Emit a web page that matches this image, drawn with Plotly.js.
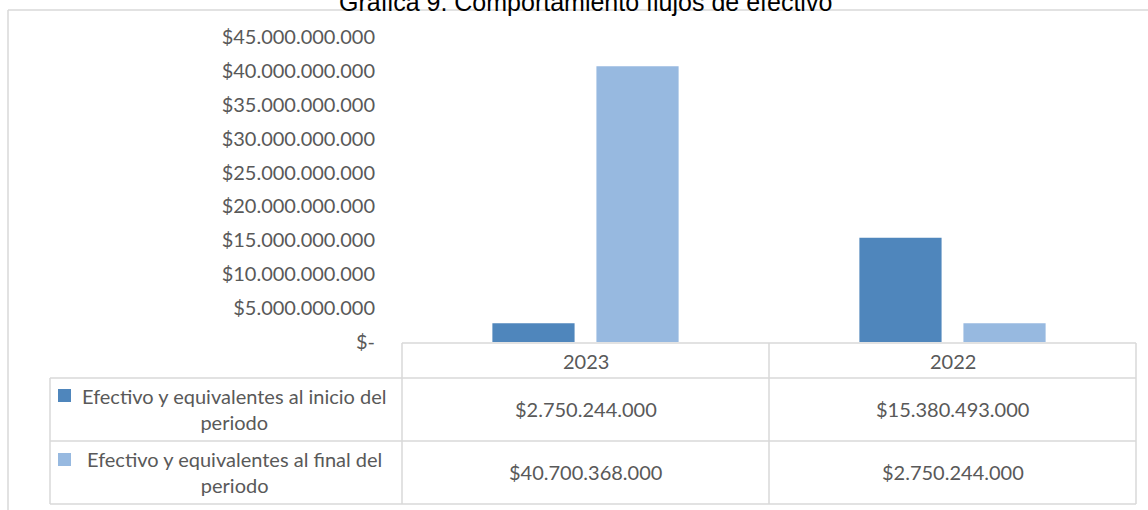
<!DOCTYPE html>
<html><head><meta charset="utf-8">
<script src="https://cdn.plot.ly/plotly-3.0.1.min.js"></script>
<style>html,body{margin:0;padding:0;background:#fff;overflow:hidden;}#chart{width:1148px;height:510px;}</style>
</head><body><div id="chart"></div>
<script>
// ---- data ----
const categories = ['2023', '2022'];
const seriesNames = ['Efectivo y equivalentes al inicio del', 'Efectivo y equivalentes al final del'];
const seriesNamesLine2 = ['periodo', 'periodo'];
const inicioValues = [2750244000, 15380493000];
const finalValues = [40700368000, 2750244000];
const tickValues = [0, 5000000000, 10000000000, 15000000000, 20000000000, 25000000000, 30000000000, 35000000000, 40000000000, 45000000000];
const titleText = 'Gráfica 9. Comportamiento flujos de efectivo';

// ---- styles ----
const colors = ['#4F86BC', '#97B9E0'];
const gridColor = '#D9D9D9';
const textColor = '#595959';
const FONT = 'Lato, "Open Sans", sans-serif';
const FS = 20;

const W = 1148, H = 510;
const L = 402, R = 1136, T = 37, B = 342;
const px = x => (x - L) / (R - L);
const py = y => (B - y) / (B - T);

function fmt(n) {
  return '$' + String(n).replace(/\B(?=(\d{3})+(?!\d))/g, '.');
}
const tickText = tickValues.map(v => v === 0 ? '$-' : fmt(v));
const seriesValues = [inicioValues, finalValues];

const traces = seriesValues.map((vals, i) => ({
  type: 'bar',
  x: categories,
  y: vals,
  name: seriesNames[i] + ' ' + seriesNamesLine2[i],
  marker: {color: colors[i], line: {width: 0}},
  hoverinfo: 'none'
}));

const line = (x0, y0, x1, y1) => ({
  type: 'line', xref: 'paper', yref: 'paper',
  x0: px(x0), y0: py(y0), x1: px(x1), y1: py(y1),
  line: {color: gridColor, width: 1.5}
});

const shapes = [
  // outer chart border (top & left)
  line(8, 10, 1150, 10),
  line(8, 10, 8, 515),
  // table horizontal lines
  line(402, 343, 1136, 343),
  line(50, 378, 1136, 378),
  line(50, 441, 1136, 441),
  line(50, 504, 1136, 504),
  // table vertical lines
  line(50, 378, 50, 504),
  line(402, 343, 402, 504),
  line(769, 343, 769, 504),
  line(1136, 343, 1136, 504)
];
// legend keys
const keyY = [[389, 402], [453, 466]];
colors.forEach((c, i) => {
  shapes.push({
    type: 'rect', xref: 'paper', yref: 'paper',
    x0: px(58), x1: px(71), y0: py(keyY[i][1]), y1: py(keyY[i][0]),
    fillcolor: c, line: {width: 0}
  });
});

const tf = {family: FONT, size: FS, color: textColor};
const annotations = [];
// title
annotations.push({
  xref: 'paper', yref: 'paper', x: px(585), y: py(2), xanchor: 'center', yanchor: 'middle',
  text: titleText, showarrow: false,
  font: {family: '"Liberation Sans", Arial, sans-serif', size: 25, color: '#000'}
});
// header row (category index positions on the category axis)
categories.forEach((c, j) => annotations.push({
  xref: 'x', yref: 'paper', x: j, y: py(361), xanchor: 'center', yanchor: 'middle',
  text: c, showarrow: false, font: tf
}));
// series rows
const rowY = [409, 472];
seriesValues.forEach((vals, i) => {
  annotations.push({
    xref: 'paper', yref: 'paper', x: px(234), y: py(rowY[i]), xanchor: 'center', yanchor: 'middle',
    text: seriesNames[i] + '<br>' + seriesNamesLine2[i], align: 'center', showarrow: false, font: tf
  });
  vals.forEach((v, j) => annotations.push({
    xref: 'x', yref: 'paper', x: j, y: py(rowY[i]), xanchor: 'center', yanchor: 'middle',
    text: fmt(v), showarrow: false, font: tf
  }));
});

const layout = {
  width: W, height: H,
  margin: {l: L, r: W - R, t: T, b: H - B, pad: 0},
  paper_bgcolor: '#fff', plot_bgcolor: '#fff',
  showlegend: false,
  barmode: 'group',
  bargap: 0.433,
  bargroupgap: 0.21,
  font: tf,
  xaxis: {
    type: 'category', range: [-0.5, 1.5], autorange: false,
    showticklabels: false, showgrid: false, zeroline: false,
    showline: false, ticks: '', fixedrange: true
  },
  yaxis: {
    range: [0, 45000000000], autorange: false, tickvals: tickValues, ticktext: tickText,
    showgrid: false, zeroline: false, showline: false,
    ticks: 'outside', ticklen: 22, tickcolor: 'rgba(0,0,0,0)',
    tickfont: tf, fixedrange: true
  },
  shapes: shapes,
  annotations: annotations
};

Plotly.newPlot('chart', traces, layout, {displayModeBar: false, staticPlot: true});
</script>
</body></html>
